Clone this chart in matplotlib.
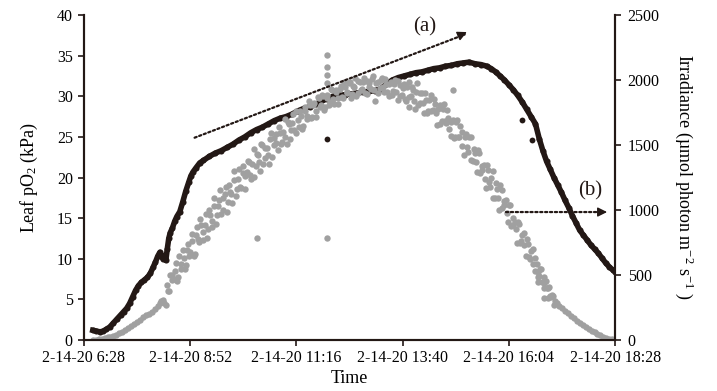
import matplotlib.pyplot as plt
import numpy as np

plt.rcParams['font.family'] = 'Liberation Serif'
plt.rcParams['mathtext.fontset'] = 'custom'
plt.rcParams['mathtext.rm'] = 'Liberation Serif'
plt.rcParams['mathtext.it'] = 'Liberation Serif:italic'

# leaf pO2 (kPa)
po2_time = ['6:40', '6:45', '6:50', '6:54', '6:58', '7:03', '7:08', '7:13', '7:18', '7:22',
            '7:26', '7:30', '7:34', '7:38', '7:42', '7:46', '7:50', '7:54', '7:58', '8:02',
            '8:05', '8:08', '8:11', '8:13', '8:15', '8:17', '8:19', '8:21', '8:23', '8:25',
            '8:28', '8:31', '8:34', '8:38', '8:42', '8:46', '8:50', '8:53', '8:56', '9:00',
            '9:05', '9:10', '9:18', '9:26', '9:34', '9:42', '9:50', '9:58', '10:06', '10:14',
            '10:22', '10:30', '10:38', '10:46', '10:54', '11:02', '11:10', '11:18', '11:26', '11:34',
            '11:42', '11:50', '11:58', '12:06', '12:14', '12:22', '12:30', '12:38', '12:46', '12:54',
            '13:02', '13:10', '13:18', '13:26', '13:34', '13:42', '13:50', '13:58', '14:06', '14:14',
            '14:22', '14:30', '14:38', '14:46', '14:54', '15:02', '15:10', '15:18', '15:26', '15:34',
            '15:40', '15:46', '15:52', '15:58', '16:04', '16:10', '16:16', '16:22', '16:28', '16:34',
            '16:40', '16:45', '16:50', '16:55', '17:00', '17:05', '17:10', '17:15', '17:20', '17:25',
            '17:30', '17:35', '17:40', '17:45', '17:50', '17:55', '18:00', '18:05', '18:10', '18:15',
            '18:20', '18:25', '18:28']
po2_val = [1.2, 1.1, 1.0, 1.1, 1.3, 1.6, 2.1, 2.6, 3.1, 3.5,
           3.9, 4.5, 5.3, 6.1, 6.7, 7.1, 7.4, 7.7, 8.2, 9.0,
           9.6, 10.3, 10.8, 10.4, 10.0, 10.4, 9.8, 11.2, 12.5, 13.2,
           13.8, 14.6, 15.2, 15.8, 17.0, 18.3, 19.4, 20.2, 20.7, 21.2,
           21.8, 22.1, 22.6, 23.0, 23.3, 23.7, 24.1, 24.6, 25.0, 25.5,
           25.9, 26.2, 26.6, 27.0, 27.3, 27.5, 27.8, 28.2, 28.5, 28.7,
           29.0, 29.4, 29.7, 30.0, 30.1, 30.2, 30.3, 30.4, 30.5, 30.6,
           30.7, 30.9, 31.5, 32.0, 32.3, 32.5, 32.7, 32.9, 33.0, 33.2,
           33.4, 33.5, 33.7, 33.8, 34.0, 34.1, 34.2, 34.0, 33.9, 33.7,
           33.4, 33.0, 32.5, 32.0, 31.4, 30.8, 30.1, 29.3, 28.4, 27.5,
           26.6, 24.8, 23.3, 22.0, 21.0, 20.0, 19.1, 18.2, 17.2, 16.3,
           15.3, 14.4, 13.5, 12.9, 12.3, 11.7, 11.2, 10.7, 10.1, 9.5,
           9.0, 8.6, 8.4]
po2_out_time = ['11:57', '16:22', '16:35']
po2_out_val = [24.8, 27.1, 24.6]

# irradiance (umol photon m-2 s-1)
irr_time = ['6:40', '6:44', '6:48', '6:52', '6:56', '7:00', '7:04', '7:08', '7:12', '7:16',
            '7:20', '7:24', '7:28', '7:32', '7:36', '7:40', '7:44', '7:48', '7:52', '7:56',
            '8:00', '8:04', '8:08', '8:11', '8:13', '8:15', '8:17', '8:19',
            '8:21', '8:24', '8:27', '8:30', '8:33', '8:36', '8:39', '8:42', '8:45', '8:48',
            '8:51', '8:54', '8:57', '9:00', '9:03', '9:06', '9:09', '9:12', '9:15', '9:18',
            '9:21', '9:24', '9:27', '9:30', '9:33', '9:36', '9:39', '9:42', '9:45', '9:48',
            '9:51', '9:54', '9:57', '10:00', '10:03', '10:06', '10:09', '10:12', '10:15', '10:18',
            '10:21', '10:23', '10:24', '10:27', '10:30', '10:33', '10:36', '10:39', '10:42', '10:45',
            '10:48', '10:51', '10:54', '10:57', '11:00', '11:03', '11:06', '11:09', '11:12', '11:15',
            '11:18', '11:21', '11:24', '11:27', '11:30', '11:33', '11:36', '11:39', '11:42', '11:45',
            '11:48', '11:51', '11:54', '11:57', '11:57', '11:57', '11:57', '11:57', '11:57',
            '12:00', '12:03', '12:06', '12:09', '12:12', '12:15', '12:18', '12:21', '12:24', '12:27',
            '12:30', '12:33', '12:36', '12:39', '12:42', '12:45', '12:48', '12:51', '12:54', '12:57',
            '13:00', '13:03', '13:06', '13:09', '13:12', '13:15', '13:18', '13:21', '13:24', '13:27',
            '13:30', '13:33', '13:36', '13:39', '13:42', '13:45', '13:48', '13:48', '13:51', '13:54',
            '13:57', '14:00', '14:03', '14:06', '14:09', '14:12', '14:15', '14:18', '14:21', '14:24',
            '14:27', '14:30', '14:33', '14:36', '14:39', '14:42', '14:45', '14:48', '14:48', '14:51',
            '14:54', '14:57', '15:00', '15:03', '15:06', '15:09', '15:12', '15:15', '15:18', '15:21',
            '15:24', '15:27', '15:30', '15:33', '15:36', '15:39', '15:42', '15:45', '15:48', '15:51',
            '15:54', '15:57', '16:00', '16:03', '16:06', '16:09', '16:12', '16:15', '16:18', '16:21',
            '16:24', '16:27', '16:30', '16:33', '16:36', '16:39', '16:42', '16:44', '16:44', '16:45',
            '16:48', '16:51', '16:52', '16:52', '16:54', '16:57', '16:57', '17:00', '17:03', '17:05',
            '17:06',
            '17:09', '17:12', '17:16', '17:20', '17:24', '17:28', '17:32', '17:36', '17:40', '17:44',
            '17:48', '17:52', '17:56', '18:00', '18:04', '18:08', '18:12', '18:16', '18:20', '18:24',
            '18:28']
irr_val = [0, 2, 5, 10, 15, 20, 26, 33, 42, 52,
           63, 76, 90, 105, 120, 135, 155, 177, 190, 198,
           215, 240, 262, 285, 300, 305, 285, 270,
           420, 380, 500, 470, 590, 484, 581, 690, 550, 690,
           648, 812, 646, 810, 777, 934, 771, 888, 785, 1002,
           918, 1032, 896, 1030, 1151, 1002, 1123, 984, 1195, 1126,
           1297, 1108, 1239, 1180, 1341, 1162, 1293, 1372, 1240, 1468,
           1336, 785, 1424, 1302, 1500, 1398, 1476, 1354, 1592, 1500,
           1588, 1465, 1590, 1525, 1700, 1505, 1660, 1615, 1740, 1595,
           1690, 1765, 1620, 1765, 1700, 1835, 1710, 1805, 1718, 1870,
           1792, 1883, 1772, 2190, 2100, 2040, 1980, 785, 1860,
           1810, 1928, 1856, 1924, 1812, 1930, 1866, 1982, 1908, 1974,
           1860, 1954, 2018, 1902, 1986, 1930, 2012, 1894, 1976, 1928,
           2030, 1839, 1988, 1937, 2016, 1905, 1972, 1879, 1986, 1913,
           2000, 1844, 1958, 1882, 1966, 1840, 1982, 1790, 1874, 1926,
           1778, 1980, 1820, 1900, 1750, 1850, 1760, 1886, 1772, 1818,
           1654, 1810, 1682, 1814, 1666, 1708, 1570, 1920, 1690, 1560,
           1690, 1560, 1600, 1426, 1582, 1448, 1564, 1380, 1442, 1294,
           1436, 1308, 1350, 1172, 1304, 1176, 1298, 1090, 1164, 998,
           1152, 1036, 1080, 904, 1038, 882, 906, 750, 890, 760,
           820, 650, 740, 624, 698, 532, 586, 485, 446, 490,
           548, 436, 400, 323, 454, 322, 402, 340, 350, 270,
           300,
           285, 265, 245, 222, 205, 185, 168, 150, 133, 118,
           103, 88, 72, 58, 46, 36, 26, 18, 11, 5,
           0]

# second pass of irradiance readings in the scattered middle of the day
irr2_time = ['8:22', '8:25', '8:28', '8:31', '8:34', '8:37', '8:40', '8:43', '8:46', '8:49',
             '8:52', '8:55', '8:58', '9:01', '9:04', '9:07', '9:10', '9:13', '9:16', '9:19',
             '9:22', '9:25', '9:28', '9:31', '9:34', '9:37', '9:40', '9:43', '9:46', '9:49',
             '9:52', '9:55', '9:58', '10:01', '10:04', '10:07', '10:10', '10:13', '10:16', '10:19',
             '10:22', '10:25', '10:28', '10:31', '10:34', '10:37', '10:40', '10:43', '10:46', '10:49',
             '10:52', '10:55', '10:58', '11:01', '11:04', '11:07', '11:10', '11:13', '11:16', '11:19',
             '11:22', '11:25', '11:28', '11:31', '11:34', '11:37', '11:40', '11:43', '11:46', '11:49',
             '11:52', '11:55', '11:58', '12:01', '12:04', '12:07', '12:10', '12:13', '12:16', '12:19',
             '12:22', '12:25', '12:28', '12:31', '12:34', '12:37', '12:40', '12:43', '12:46', '12:49',
             '12:52', '12:55', '12:58', '13:01', '13:04', '13:07', '13:10', '13:13', '13:16', '13:19',
             '13:22', '13:25', '13:28', '13:31', '13:34', '13:37', '13:40', '13:43', '13:46', '13:49',
             '13:52', '13:55', '13:58', '14:01', '14:04', '14:07', '14:10', '14:13', '14:16', '14:19',
             '14:22', '14:25', '14:28', '14:31', '14:34', '14:37', '14:40', '14:43', '14:46', '14:49',
             '14:52', '14:55', '14:58', '15:01', '15:04', '15:07', '15:10', '15:13', '15:16', '15:19',
             '15:22', '15:25', '15:28', '15:31', '15:34', '15:37', '15:40', '15:43', '15:46', '15:49',
             '15:52', '15:55', '15:58', '16:01', '16:04', '16:07', '16:10', '16:13', '16:16', '16:19',
             '16:22', '16:25', '16:28', '16:31', '16:34', '16:37', '16:40', '16:43', '16:46', '16:49',
             '16:52', '16:55', '16:58', '17:01', '17:04']
irr2_val = [380, 500, 460, 528, 456, 643, 550, 630, 580, 740,
            676, 760, 664, 869, 756, 883, 830, 967, 854, 961,
            866, 1090, 964, 1077, 968, 1089, 1180, 1061, 1142, 1053,
            1234, 1165, 1316, 1167, 1288, 1259, 1380, 1268, 1356, 1254,
            1432, 1370, 1508, 1356, 1474, 1422, 1550, 1408, 1556, 1514,
            1640, 1505, 1600, 1565, 1680, 1545, 1670, 1615, 1760, 1635,
            1720, 1645, 1790, 1725, 1810, 1715, 1820, 1762, 1864, 1806,
            1876, 1796, 1884, 1832, 1920, 1818, 1906, 1864, 1952, 1858,
            1944, 1900, 1986, 1891, 1945, 1879, 1993, 1927, 1981, 1903,
            1995, 1947, 2009, 1920, 1979, 1898, 1997, 1946, 2004, 1911,
            1968, 1885, 1972, 1908, 1992, 1876, 1940, 1854, 1946, 1868,
            1950, 1842, 1904, 1807, 1897, 1827, 1897, 1747, 1845, 1761,
            1857, 1743, 1779, 1664, 1776, 1688, 1770, 1622, 1674, 1554,
            1674, 1564, 1644, 1492, 1558, 1484, 1560, 1386, 1471, 1373,
            1465, 1287, 1339, 1241, 1343, 1215, 1247, 1089, 1211, 1095,
            1189, 1013, 1067, 978, 1042, 876, 940, 854, 910, 750,
            810, 730, 780, 638, 682, 586, 630, 524, 548, 446,
            484, 402, 410, 332, 338]

xtick_labels = ['2-14-20 6:28', '2-14-20 8:52', '2-14-20 11:16',
                '2-14-20 13:40', '2-14-20 16:04', '2-14-20 18:28']


def hrs(s):
    h, m = s.split(':')
    return int(h) + int(m) / 60.0


fig = plt.figure(figsize=(7.17, 3.91), dpi=100)
ax = fig.add_axes([0.117, 0.1304, 0.741, 0.8312])
ax2 = ax.twinx()

black = '#231815'
grey = '#a0a0a0'

t1 = [hrs(s) for s in po2_time]
ax.plot(t1, po2_val, '-o', color=black, lw=4.0, ms=4.4, mew=0)
ax.plot([hrs(s) for s in po2_out_time], po2_out_val, 'o', color=black, ms=4.2, mew=0)

ax2.plot([hrs(s) for s in irr_time], irr_val, 'o', color=grey, ms=4.6, mew=0)
ax2.plot([hrs(s) for s in irr2_time], irr2_val, 'o', color=grey, ms=4.6, mew=0)

x0 = hrs('6:28')
x1 = hrs('18:28')
ticks = np.linspace(x0, x1, 6)
ax.set_xlim(x0, x1)
ax.set_xticks(ticks)
ax.set_xticklabels(xtick_labels)
ax.set_ylim(0, 40)
ax.set_yticks(range(0, 41, 5))
ax2.set_ylim(0, 2500)
ax2.set_yticks(range(0, 2501, 500))

for a in (ax, ax2):
    a.spines['top'].set_visible(False)
    for s in ('left', 'right', 'bottom'):
        a.spines[s].set_linewidth(1.5)
        a.spines[s].set_color(black)
    a.tick_params(direction='out', length=4, width=1.2, labelsize=11.5, color=black)
ax.tick_params(axis='x', pad=3)
ax.tick_params(axis='y', pad=4)
ax2.tick_params(axis='y', pad=5)

ax.set_xlabel('Time', fontsize=13, labelpad=3)
ax.set_ylabel('Leaf pO$_2$ (kPa)', fontsize=13, labelpad=12)
ax2.set_ylabel('Irradiance (\u00b5mol photon m$^{-2}$ s$^{-1}$ )', fontsize=13,
               rotation=270, labelpad=26)

# annotation arrows
ax2.annotate('', xy=(hrs('15:04'), 37.6), xytext=(hrs('8:58'), 24.9),
             xycoords=ax.transData, textcoords=ax.transData,
             arrowprops=dict(arrowstyle='-', lw=1.6, ls=(0, (1, 1.2)), color=black,
                             shrinkA=0, shrinkB=0))
ax2.annotate('', xy=(hrs('15:07'), 37.9), xytext=(hrs('14:55'), 37.4),
             xycoords=ax.transData, textcoords=ax.transData,
             arrowprops=dict(arrowstyle='-|>', lw=1, color=black, mutation_scale=14,
                             shrinkA=0, shrinkB=0))
ax2.text(hrs('14:10'), 38.6, '(a)', transform=ax.transData, fontsize=15,
         ha='center', va='center', color=black)

ax2.annotate('', xy=(hrs('18:12'), 15.75), xytext=(hrs('16:00'), 15.75),
             xycoords=ax.transData, textcoords=ax.transData,
             arrowprops=dict(arrowstyle='-', lw=1.6, ls=(0, (1, 1.2)), color=black,
                             shrinkA=0, shrinkB=0))
ax2.annotate('', xy=(hrs('18:17'), 15.75), xytext=(hrs('18:05'), 15.75),
             xycoords=ax.transData, textcoords=ax.transData,
             arrowprops=dict(arrowstyle='-|>', lw=1, color=black, mutation_scale=14,
                             shrinkA=0, shrinkB=0))
ax2.text(hrs('17:54'), 18.3, '(b)', transform=ax.transData, fontsize=15,
         ha='center', va='center', color=black)

fig.savefig('out.png', dpi=100)
